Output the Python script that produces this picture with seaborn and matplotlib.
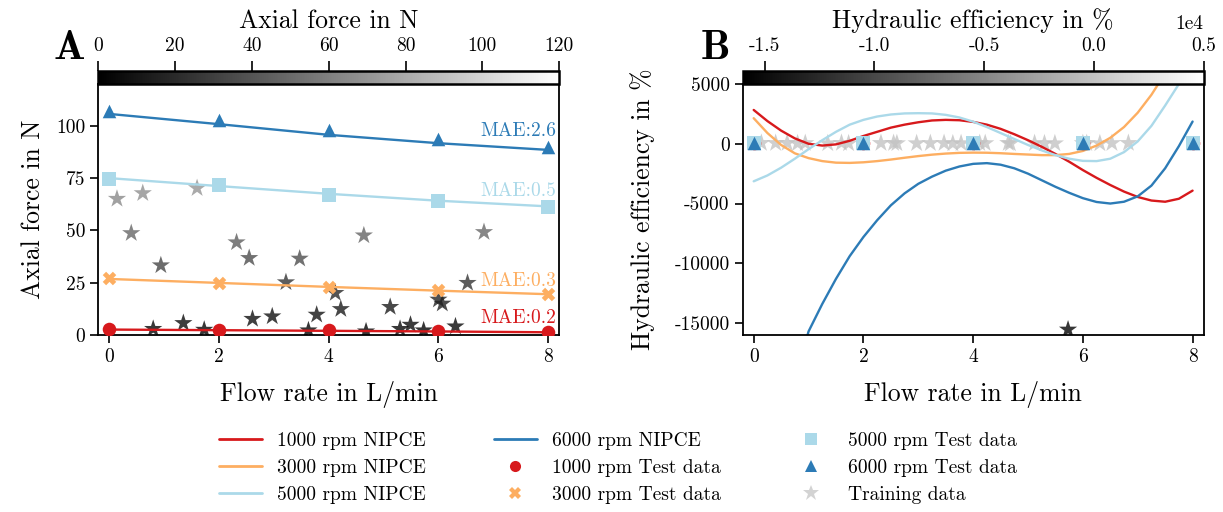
import matplotlib
matplotlib.use("Agg")
import matplotlib.pyplot as plt
import matplotlib.colors as mcolors
import matplotlib.cm as cm
from matplotlib.lines import Line2D
from matplotlib.ticker import ScalarFormatter
import numpy as np
import pandas as pd
import seaborn as sns

sns.set_theme(style="ticks")
plt.rcParams["font.family"] = ["cmr10", "DejaVu Serif"]
plt.rcParams["axes.unicode_minus"] = False
plt.rcParams["axes.linewidth"] = 1.3
plt.rcParams["axes.edgecolor"] = "black"
plt.rcParams["xtick.color"] = "black"
plt.rcParams["ytick.color"] = "black"
plt.rcParams["text.color"] = "black"
plt.rcParams["axes.labelcolor"] = "black"

# ---- series data -------------------------------------------------------
rpm_labels = ["1000", "3000", "5000", "6000"]
colors = ["#d7191c", "#fdae61", "#abd9e9", "#2c7bb6"]
markers = ["o", "X", "s", "^"]

flow_test = [0, 2, 4, 6, 8]

# axial force, test data (N)
force_test_1000 = [2.9, 2.5, 2.2, 1.9, 1.4]
force_test_3000 = [27.2, 24.8, 22.8, 21.3, 19.7]
force_test_5000 = [74.7, 71.5, 67.0, 63.9, 61.1]
force_test_6000 = [107.3, 102.9, 98.1, 93.8, 90.1]

# axial force, NIPCE surrogate (N)
force_nipce_1000 = [2.6, 2.3, 2.0, 1.7, 1.3]
force_nipce_3000 = [26.8, 24.9, 23.0, 21.2, 19.5]
force_nipce_5000 = [75.0, 71.2, 67.5, 64.2, 61.5]
force_nipce_6000 = [105.7, 100.8, 95.7, 91.7, 88.5]

mae_labels = ["MAE:0.2", "MAE:0.3", "MAE:0.5", "MAE:2.6"]
mae_y = [8.1, 26.0, 68.6, 97.3]

# training samples
flow_train = [0.14, 0.40, 0.61, 0.80, 0.94, 1.35, 1.60, 1.73, 2.32, 2.55,
              2.61, 2.97, 3.22, 3.47, 3.63, 3.78, 4.12, 4.22, 4.64, 4.68,
              5.12, 5.30, 5.49, 5.73, 6.00, 6.07, 6.31, 6.53, 6.83]
force_train = [65.1, 48.7, 67.8, 2.9, 33.3, 5.7, 70.2, 2.5, 44.3, 36.8,
               7.7, 8.9, 25.2, 36.5, 2.2, 9.7, 20.1, 12.4, 47.6, 1.7,
               13.4, 2.9, 4.9, 2.2, 16.9, 15.0, 4.1, 24.9, 49.2]
eff_train = [62, 55, 64, 30, 52, 35, 66, 28, 58, 54,
             38, 40, 50, 55, 25, 41, 48, 44, 60, 20,
             45, 28, 32, -15550, 47, 46, 30, 51, 60]

# hydraulic efficiency, test data (%)
eff_test_1000 = [35, 40, 42, 40, 36]
eff_test_3000 = [52, 58, 60, 58, 55]
eff_test_5000 = [62, 68, 70, 69, 66]
eff_test_6000 = [64, 70, 72, 71, 68]

# hydraulic efficiency, NIPCE surrogate (%)
flow_fine = [0.0, 0.25, 0.5, 0.75, 1.0, 1.25, 1.5, 1.75, 2.0, 2.25, 2.5,
             2.75, 3.0, 3.25, 3.5, 3.75, 4.0, 4.25, 4.5, 4.75, 5.0, 5.25,
             5.5, 5.75, 6.0, 6.25, 6.5, 6.75, 7.0, 7.25, 7.5, 7.75, 8.0]
eff_nipce_1000 = [2830, 1900, 1100, 450, 0, -150, -50, 250, 650, 1000, 1350,
                  1600, 1800, 1950, 2000, 1970, 1830, 1600, 1250, 800, 300, -250,
                  -850, -1500, -2200, -2850, -3450, -4000, -4450, -4750, -4850, -4600, -3920]
eff_nipce_3000 = [2140, 900, -100, -800, -1200, -1450, -1580, -1600, -1550, -1450, -1320,
                  -1170, -1030, -910, -820, -760, -740, -750, -790, -850, -900, -950,
                  -950, -850, -600, -150, 500, 1400, 2600, 4100, 5900, 8000, 10500]
eff_nipce_5000 = [-3140, -2650, -2000, -1250, -450, 300, 1000, 1600, 2000, 2280, 2450,
                  2540, 2560, 2540, 2420, 2200, 1850, 1400, 900, 400, -100, -550,
                  -950, -1250, -1430, -1450, -1250, -700, 200, 1500, 3200, 5000, 7200]
eff_nipce_6000 = [-36000, -30000, -24500, -19800, -15700, -13400, -11300, -9400, -7800, -6400, -5150,
                  -4150, -3350, -2750, -2250, -1900, -1680, -1620, -1750, -2050, -2500, -3050,
                  -3600, -4100, -4550, -4870, -5000, -4850, -4400, -3500, -2050, -200, 1860]

force_test = [force_test_1000, force_test_3000, force_test_5000, force_test_6000]
force_nipce = [force_nipce_1000, force_nipce_3000, force_nipce_5000, force_nipce_6000]
eff_test = [eff_test_1000, eff_test_3000, eff_test_5000, eff_test_6000]
eff_nipce = [eff_nipce_1000, eff_nipce_3000, eff_nipce_5000, eff_nipce_6000]

force_range = (0, 120)
eff_range = (-16000, 5000)

# ---- figure ------------------------------------------------------------
fig = plt.figure(figsize=(12.23, 5.12), dpi=100)
ax_w, ax_h = 0.3768, 0.4902
ax_b = 0.3457
axA = fig.add_axes([0.0804, ax_b, ax_w, ax_h])
axB = fig.add_axes([0.6073, ax_b, ax_w, ax_h])
caxA = fig.add_axes([0.0804, ax_b + ax_h, ax_w, 0.026])
caxB = fig.add_axes([0.6073, ax_b + ax_h, ax_w, 0.026])

FS_LABEL = 18.5
FS_TICK = 14
STAR_ALPHA = 0.8


def draw_panel(ax, nipce_x, nipce, test, train_y, vrange):
    norm = mcolors.Normalize(*vrange)
    sns.scatterplot(x=flow_train, y=train_y, hue=train_y, palette="gray",
                    hue_norm=norm, marker="*", s=190, linewidth=0,
                    alpha=STAR_ALPHA, legend=False, ax=ax, zorder=1)
    for c, vals in zip(colors, nipce):
        sns.lineplot(x=nipce_x, y=vals, color=c, linewidth=1.7, ax=ax,
                     legend=False, zorder=2)
    for c, m, vals in zip(colors, markers, test):
        sns.scatterplot(x=flow_test, y=vals, color=c, marker=m, s=95,
                        linewidth=0, legend=False, ax=ax, zorder=3)
    ax.set_xlim(-0.2, 8.2)
    ax.set_ylim(*vrange)
    ax.set_xticks([0, 2, 4, 6, 8])
    ax.set_xlabel("Flow rate in L/min", fontsize=FS_LABEL, labelpad=11)
    ax.tick_params(axis="both", labelsize=FS_TICK, length=6, width=1.2,
                   direction="out")
    for s in ax.spines.values():
        s.set_visible(True)
        s.set_linewidth(1.3)
        s.set_color("black")
    return norm


def draw_colorbar(cax, norm, label, ticks, sci=False):
    sm = cm.ScalarMappable(norm=norm, cmap="gray")
    cb = fig.colorbar(sm, cax=cax, orientation="horizontal")
    cb.outline.set_linewidth(1.8)
    cax.xaxis.set_ticks_position("top")
    cax.xaxis.set_label_position("top")
    cb.set_ticks(ticks)
    if sci:
        fmt = ScalarFormatter()
        fmt.set_powerlimits((0, 0))
        cax.xaxis.set_major_formatter(fmt)
        cax.xaxis.get_offset_text().set_fontsize(FS_TICK)
    cax.tick_params(axis="x", labelsize=FS_TICK, length=7, width=1.2, pad=4)
    cax.set_xlabel(label, fontsize=FS_LABEL, labelpad=7)


# panel A: axial force
normA = draw_panel(axA, flow_test, force_nipce, force_test, force_train, force_range)
axA.set_yticks([0, 25, 50, 75, 100])
axA.set_ylabel("Axial force in N", fontsize=FS_LABEL, labelpad=8)
for c, txt, y in zip(colors, mae_labels, mae_y):
    axA.text(6.76, y, txt, color=c, fontsize=FS_TICK, ha="left", va="center",
             clip_on=False, zorder=4)
draw_colorbar(caxA, normA, "Axial force in N", [0, 20, 40, 60, 80, 100, 120])

# panel B: hydraulic efficiency
normB = draw_panel(axB, flow_fine, eff_nipce, eff_test, eff_train, eff_range)
axB.set_yticks([5000, 0, -5000, -10000, -15000])
axB.set_ylabel("Hydraulic efficiency in %", fontsize=FS_LABEL, labelpad=14)
draw_colorbar(caxB, normB, "Hydraulic efficiency in %",
              [-15000, -10000, -5000, 0, 5000], sci=True)

fig.text(0.057, 0.906, "A", fontsize=30, family="cmb10", ha="center", va="center")
fig.text(0.585, 0.906, "B", fontsize=30, family="cmb10", ha="center", va="center")

# shared legend
handles, labels = [], []
for r, c in zip(rpm_labels, colors):
    handles.append(Line2D([], [], color=c, linewidth=2))
    labels.append(f"{r} rpm NIPCE")
for r, c, m in zip(rpm_labels, colors, markers):
    handles.append(Line2D([], [], color=c, marker=m, linestyle="none",
                          markersize=8, markeredgewidth=0))
    labels.append(f"{r} rpm Test data")
handles.append(Line2D([], [], color="lightgray", marker="*", linestyle="none",
                      markersize=12, markeredgewidth=0))
labels.append("Training data")
fig.legend(handles, labels, ncol=3, loc="upper center",
           bbox_to_anchor=(0.505, 0.19), frameon=False, fontsize=FS_TICK,
           columnspacing=3.5, handlelength=2.2, labelspacing=0.45)

fig.savefig("out.png", dpi=100)
